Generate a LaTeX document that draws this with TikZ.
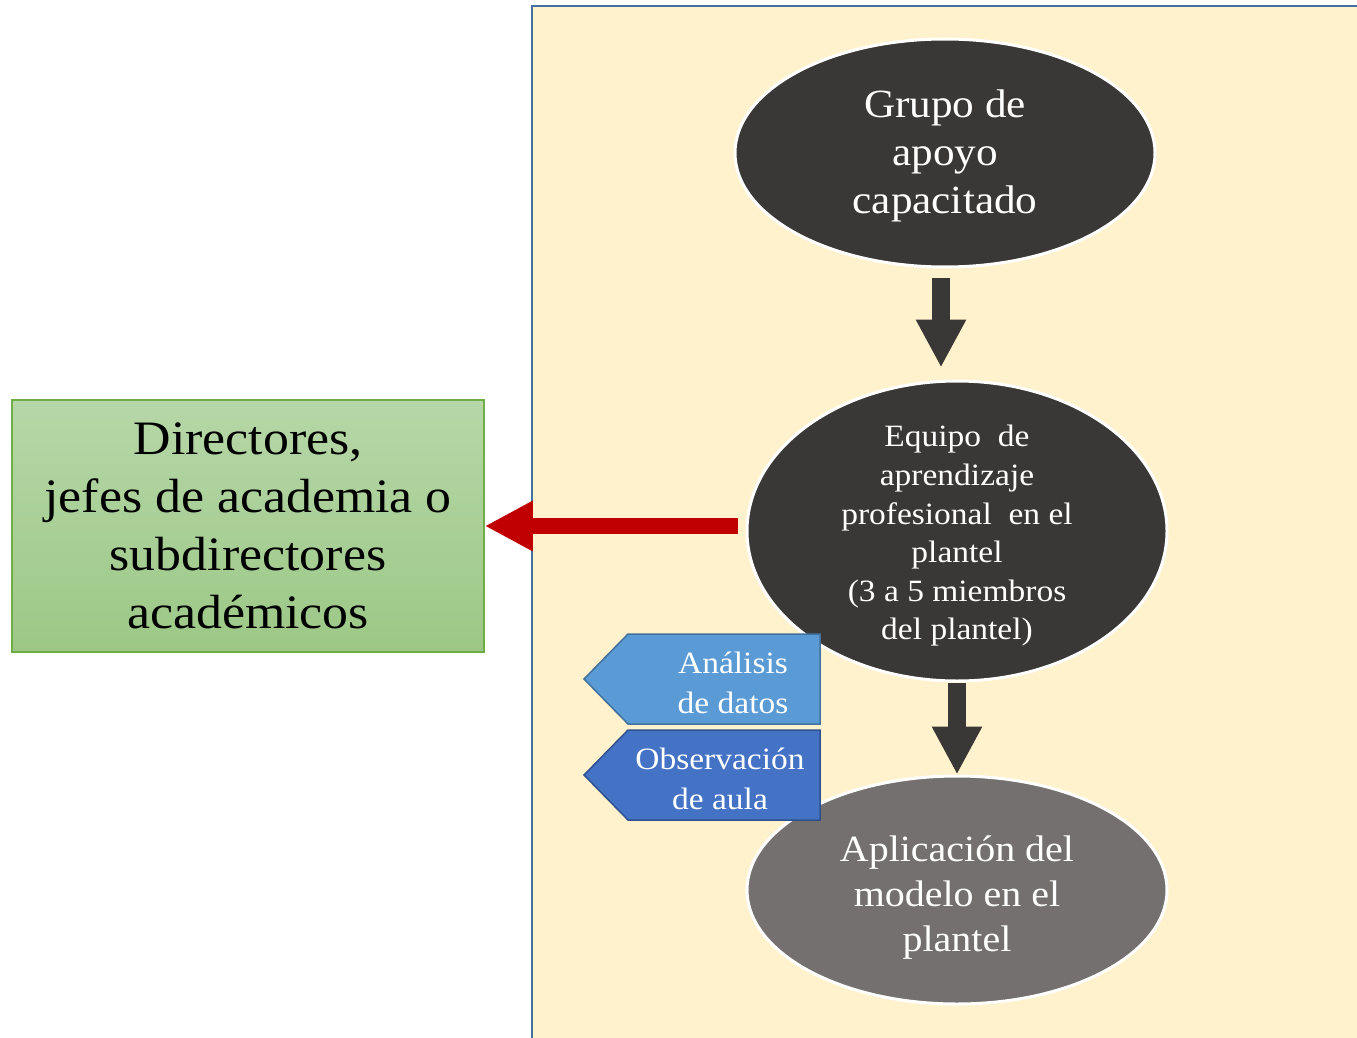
\documentclass[tikz,border=0pt]{standalone}
\usepackage{fontspec}
\setmainfont{Liberation Serif}[FakeStretch=1.08]
\usetikzlibrary{shapes.geometric,arrows.meta,calc}
\definecolor{bgfill}{HTML}{FFF2CC}
\definecolor{bgline}{HTML}{41719C}
\definecolor{darkell}{HTML}{3A3836}
\definecolor{grayell}{HTML}{757070}
\definecolor{redarr}{HTML}{C00000}
\definecolor{gtop}{HTML}{B6D7A8}
\definecolor{gbot}{HTML}{9CC886}
\definecolor{gline}{HTML}{70AD47}
\definecolor{tagA}{HTML}{5B9BD5}
\definecolor{tagAline}{HTML}{41719C}
\definecolor{tagB}{HTML}{4472C4}
\definecolor{tagBline}{HTML}{2F528F}
\tikzset{
  ell/.style={ellipse, draw=white, line width=3pt, inner sep=0pt,
    minimum width=420pt},
  elltext/.style={text=white, align=center, inner sep=0pt},
  blockarrow/.style={draw=darkell, line width=18pt,
    -{Triangle[length=48pt,width=47pt]}},
  redarrow/.style={draw=redarr, line width=16pt,
    -{Triangle[length=48pt,width=47pt]}},
  tagtext/.style={text=white, align=center, inner sep=0pt,
    font={\fontsize{31}{40}\selectfont}},
}
\begin{document}
\begin{tikzpicture}[x=1pt,y=-1pt]
\useasboundingbox (0,0) rectangle (1357,1038);
\path[clip] (0,0) rectangle (1357,1038);
% background panel
\draw[draw=bgline, fill=bgfill, line width=2pt] (532,6) rectangle (1370,1050);
% ellipses
\node[ell, fill=darkell, minimum height=228pt] (e1) at (945,153) {};
\node[elltext, font={\fontsize{40}{48}\selectfont}] (e1t) at (945,156)
  {Grupo de\\apoyo\\capacitado};
\node[ell, fill=darkell, minimum height=300pt] (e2) at (957,531) {};
\node[elltext, font={\fontsize{31}{38.6}\selectfont}] (e2t) at (957,536)
  {Equipo~ de\\aprendizaje\\profesional~ en el\\plantel\\(3 a 5 miembros\\del plantel)};
\node[ell, fill=grayell, minimum height=228pt] (e3) at (957,890) {};
\node[elltext, font={\fontsize{37}{45}\selectfont}] (e3t) at (957,898)
  {Aplicación del\\modelo en el\\plantel};
% green box
\node[draw=gline, line width=1.5pt, top color=gtop, bottom color=gbot,
  minimum width=472pt, minimum height=252pt, inner sep=0pt, align=center,
  font={\fontsize{48}{58}\selectfont}] (dir) at (248,526)
  {Directores,\\jefes de academia o\\subdirectores\\académicos};
% arrows
\draw[blockarrow, shorten <=9pt, shorten >=12pt]
  ([xshift=-4pt]e1.south) -- ([xshift=-4pt]e1.south |- e2.north);
\draw[blockarrow] (e2.south) -- (e3.north);
\draw[redarrow] ([xshift=-8pt]dir.east -| e2.west) -- (dir.east);
% tags
\draw[fill=tagA, draw=tagAline, line width=1.5pt]
  (820,634) -- (628,634) -- (584,679) -- (628,724) -- (820,724) -- cycle;
\node[tagtext] (t1) at (733,683) {Análisis\\de datos};
\draw[fill=tagB, draw=tagBline, line width=1.5pt]
  (820,730) -- (628,730) -- (584,775) -- (628,820) -- (820,820) -- cycle;
\node[tagtext] (t2) at (720,779) {Observación\\de aula};
\end{tikzpicture}
\end{document}
